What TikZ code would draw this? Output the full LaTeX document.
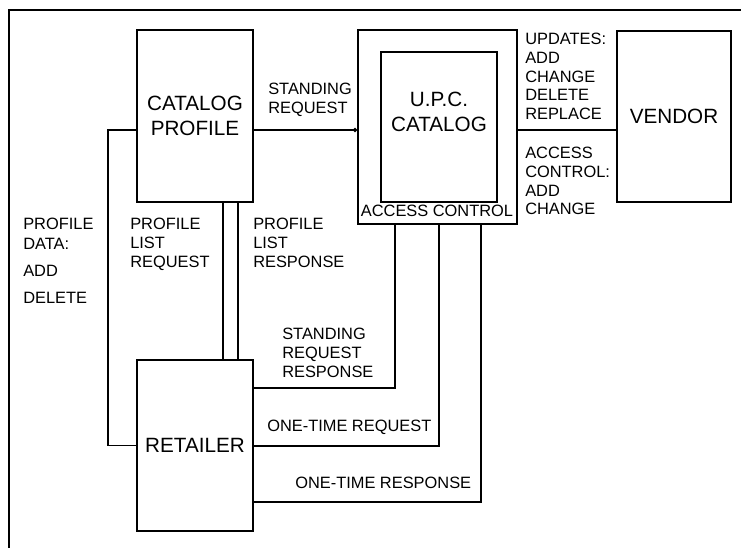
\documentclass[tikz,border=0pt]{standalone}
\usepackage{fontspec}
\setmainfont{Liberation Sans}
\usepackage{tikz}
\usetikzlibrary{shapes,arrows,arrows.meta,positioning,calc}

\tikzset{
    box/.style={rectangle, draw, line width=1.4pt, inner sep=0pt},
    big/.style={font=\fontsize{15.5}{18.5}\selectfont, align=center, inner sep=0pt},
    lbl/.style={font=\fontsize{12.3}{14}\selectfont, align=left, inner sep=0pt},
    wire/.style={line width=1.4pt}
}

\begin{document}
\begin{tikzpicture}[x=0.75pt, y=-0.75pt]
            \useasboundingbox (0,0) rectangle (741,548);
            % frame
            \draw[wire] (741,10) -- (9,10) -- (9,548);

            % boxes
            \node[box, big, minimum width=87pt, minimum height=129pt] (cp) at (195,116) {CATALOG\\PROFILE};
            \node[box, big, minimum width=87pt, minimum height=128.25pt] (ret) at (195,445.5) {RETAILER};
            \node[box, minimum width=119.25pt, minimum height=145.5pt] (upc) at (437.5,127) {};
            \node[box, minimum width=87pt, minimum height=112.5pt] (cat) at (439,127) {};
            \node[big] (cattxt) at ($(cat)+(0,-15)$) {U.P.C.\\CATALOG};
            \node[lbl] (acc) at (437,210.5) {ACCESS CONTROL};
            \node[box, big, minimum width=85.5pt, minimum height=128.25pt] (ven) at (674,116.5) {VENDOR};

            % connectors
            \coordinate (sr) at (0,130);
            \draw[wire, -{Circle[length=3pt]}] (cp.east |- sr) -- (upc.west |- sr);
            \draw[wire] (upc.east |- sr) -- (ven.west |- sr);
            \draw[wire] (cp.west |- sr) -- ++(-28,0) |- (ret.west);
            \draw[wire] ($(cp.south)+(28,0)$) -- ($(ret.north)+(28,0)$);
            \draw[wire] ($(cp.south)+(43,0)$) -- ($(ret.north)+(43,0)$);
            \draw[wire] ($(ret.east)+(0,-57.5)$) -| ($(upc.south)+(-42.5,0)$);
            \draw[wire] ($(ret.east)+(0,0.5)$) -| ($(upc.south)+(1.5,0)$);
            \draw[wire] ($(ret.east)+(0,56.5)$) -| ($(upc.south)+(43.5,0)$);

            % labels
            \node[lbl, anchor=north west] (srq) at (268,83) {STANDING\\REQUEST};
            \node[lbl, anchor=north west] (upd) at (525,33) {UPDATES:\\ADD\\CHANGE\\DELETE\\REPLACE};
            \node[lbl, anchor=north west] (acl) at (525,147) {ACCESS\\CONTROL:\\ADD\\CHANGE};
            \node[lbl, anchor=north west, font=\fontsize{12.3}{15}\selectfont] (pd) at (23,218) {PROFILE\\DATA:\\[5.25pt]ADD\\[5.25pt]DELETE};
            \node[lbl, anchor=north west] (plq) at (130,218) {PROFILE\\LIST\\REQUEST};
            \node[lbl, anchor=north west] (plr) at (253,218) {PROFILE\\LIST\\RESPONSE};
            \node[lbl, anchor=north west] (srr) at (282,328) {STANDING\\REQUEST\\RESPONSE};
            \node[lbl, anchor=north west] (otq) at (267,420) {ONE-TIME REQUEST};
            \node[lbl, anchor=north west] (otr) at (295,477) {ONE-TIME RESPONSE};
\end{tikzpicture}
\end{document}
